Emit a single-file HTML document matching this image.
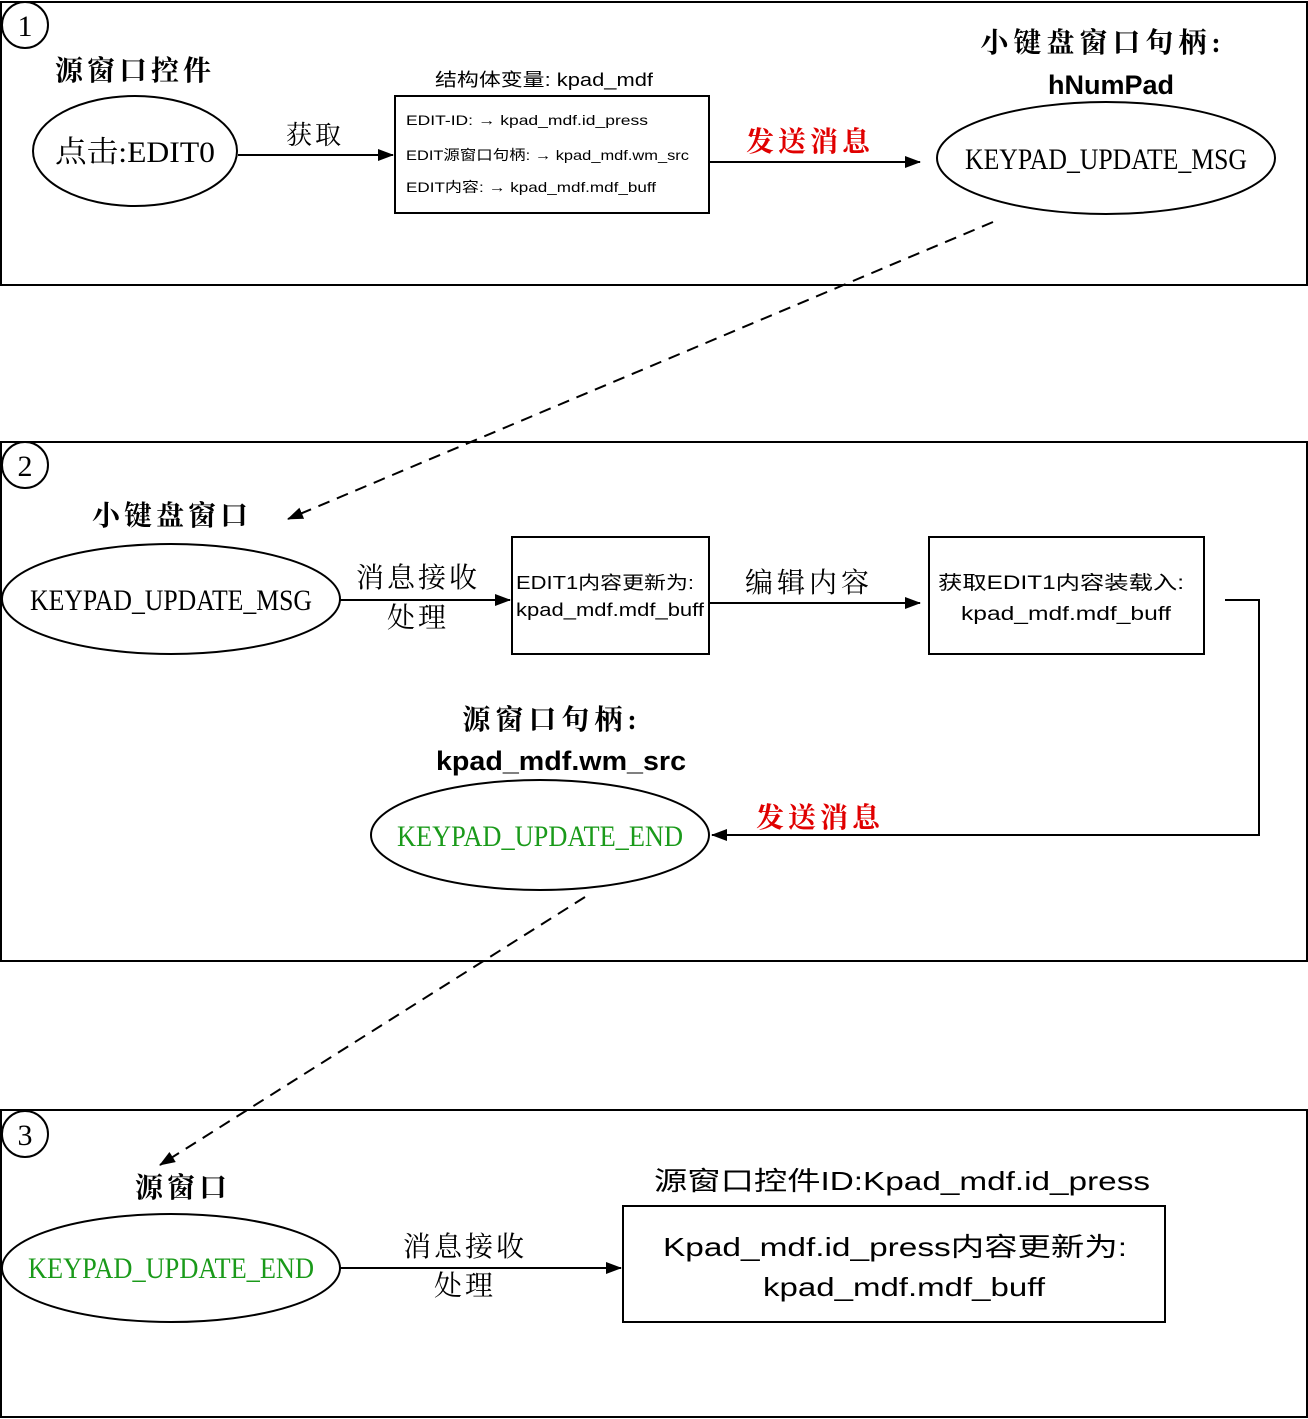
<!DOCTYPE html>
<html><head><meta charset="utf-8"><style>
html,body{margin:0;padding:0;background:#fff}
svg{display:block}
.s{font-family:"Liberation Serif","Noto Serif CJK SC",serif}
.a{font-family:"Liberation Sans","Noto Sans CJK SC",sans-serif}
</style></head><body>
<svg width="1308" height="1419" viewBox="0 0 1308 1419" xmlns="http://www.w3.org/2000/svg">
<defs>
<marker id="ar" markerWidth="16" markerHeight="12" refX="15" refY="6" orient="auto" markerUnits="userSpaceOnUse">
<path d="M0,0 L16,6 L0,12 z" fill="#000"/></marker>
</defs>
<g fill="none" stroke="#000" stroke-width="2">
<rect x="1" y="2" width="1306" height="283"/>
<rect x="1" y="442" width="1306" height="519"/>
<rect x="1" y="1110" width="1306" height="307"/>
<circle cx="25" cy="25" r="23"/>
<circle cx="25" cy="465" r="23"/>
<circle cx="25" cy="1134" r="23"/>
<ellipse cx="135" cy="151" rx="102" ry="55"/>
<ellipse cx="1106" cy="158" rx="169" ry="56"/>
<ellipse cx="171" cy="599" rx="169" ry="55"/>
<ellipse cx="540" cy="835" rx="169" ry="55"/>
<ellipse cx="171" cy="1268" rx="169" ry="54"/>
<rect x="395" y="96" width="314" height="117"/>
<rect x="512" y="537" width="197" height="117"/>
<rect x="929" y="537" width="275" height="117"/>
<rect x="623" y="1206" width="542" height="116"/>
<line x1="238" y1="155" x2="393" y2="155" marker-end="url(#ar)"/>
<line x1="709" y1="162" x2="920" y2="162" marker-end="url(#ar)"/>
<line x1="340" y1="600" x2="510" y2="600" marker-end="url(#ar)"/>
<line x1="709" y1="603" x2="920" y2="603" marker-end="url(#ar)"/>
<polyline points="1225,600 1259,600 1259,835 712,835" marker-end="url(#ar)"/>
<line x1="340" y1="1268" x2="621" y2="1268" marker-end="url(#ar)"/>
<line x1="993" y1="222" x2="288" y2="519" stroke-dasharray="12,8" marker-end="url(#ar)"/>
<line x1="585" y1="897" x2="160" y2="1165" stroke-dasharray="12,8" marker-end="url(#ar)"/>
</g>
<g class="s" font-size="30" text-anchor="middle" fill="#000">
<text x="25" y="36">1</text>
<text x="25" y="476">2</text>
<text x="25" y="1145">3</text>
</g>
<g class="s" fill="#000">
<text x="135" y="162" font-size="30" text-anchor="middle" textLength="160" lengthAdjust="spacingAndGlyphs">点击:EDIT0</text>
<text x="1106" y="169" font-size="30" text-anchor="middle" textLength="282" lengthAdjust="spacingAndGlyphs">KEYPAD_UPDATE_MSG</text>
<text x="171" y="610" font-size="30" text-anchor="middle" textLength="282" lengthAdjust="spacingAndGlyphs">KEYPAD_UPDATE_MSG</text>
<text x="540" y="846" font-size="30" text-anchor="middle" fill="#1a9a1a" textLength="286" lengthAdjust="spacingAndGlyphs">KEYPAD_UPDATE_END</text>
<text x="171" y="1278" font-size="30" text-anchor="middle" fill="#1a9a1a" textLength="286" lengthAdjust="spacingAndGlyphs">KEYPAD_UPDATE_END</text>
<text x="135" y="80" font-size="28" font-weight="bold" text-anchor="middle" letter-spacing="4">源窗口控件</text>
<text x="315" y="144" font-size="26" text-anchor="middle" letter-spacing="3">获取</text>
<text x="810" y="151" font-size="28" font-weight="bold" fill="#e00000" text-anchor="middle" letter-spacing="4">发送消息</text>
<text x="1103" y="52" font-size="28" font-weight="bold" text-anchor="middle" letter-spacing="5">小键盘窗口句柄:</text>
<text x="172" y="525" font-size="28" font-weight="bold" text-anchor="middle" letter-spacing="4">小键盘窗口</text>
<text x="418" y="587" font-size="28" text-anchor="middle" letter-spacing="3">消息接收</text>
<text x="418" y="627" font-size="28" text-anchor="middle" letter-spacing="3">处理</text>
<text x="809" y="592" font-size="28" text-anchor="middle" letter-spacing="4">编辑内容</text>
<text x="552" y="729" font-size="28" font-weight="bold" text-anchor="middle" letter-spacing="5">源窗口句柄:</text>
<text x="820" y="827" font-size="28" font-weight="bold" fill="#e00000" text-anchor="middle" letter-spacing="4">发送消息</text>
<text x="183" y="1197" font-size="28" font-weight="bold" text-anchor="middle" letter-spacing="4">源窗口</text>
<text x="465" y="1256" font-size="28" text-anchor="middle" letter-spacing="3">消息接收</text>
<text x="465" y="1295" font-size="28" text-anchor="middle" letter-spacing="3">处理</text>
</g>
<g class="a" fill="#000">
<text x="1111" y="94" font-size="27" font-weight="bold" text-anchor="middle">hNumPad</text>
<text x="561" y="770" font-size="27" font-weight="bold" text-anchor="middle" textLength="250" lengthAdjust="spacingAndGlyphs">kpad_mdf.wm_src</text>
<text x="544" y="86" font-size="18" text-anchor="middle" textLength="218" lengthAdjust="spacingAndGlyphs">结构体变量: kpad_mdf</text>
<text x="406" y="125" font-size="14" textLength="242" lengthAdjust="spacingAndGlyphs">EDIT-ID: → kpad_mdf.id_press</text>
<text x="406" y="160" font-size="14" textLength="283" lengthAdjust="spacingAndGlyphs">EDIT源窗口句柄: → kpad_mdf.wm_src</text>
<text x="406" y="192" font-size="14" textLength="250" lengthAdjust="spacingAndGlyphs">EDIT内容: → kpad_mdf.mdf_buff</text>
<text x="516" y="589" font-size="18" textLength="178" lengthAdjust="spacingAndGlyphs">EDIT1内容更新为:</text>
<text x="516" y="616" font-size="18" textLength="188" lengthAdjust="spacingAndGlyphs">kpad_mdf.mdf_buff</text>
<text x="938" y="589" font-size="19" textLength="246" lengthAdjust="spacingAndGlyphs">获取EDIT1内容装载入:</text>
<text x="1066" y="620" font-size="19" text-anchor="middle" textLength="210" lengthAdjust="spacingAndGlyphs">kpad_mdf.mdf_buff</text>
<text x="902" y="1190" font-size="26" text-anchor="middle" textLength="496" lengthAdjust="spacingAndGlyphs">源窗口控件ID:Kpad_mdf.id_press</text>
<text x="895" y="1256" font-size="26" text-anchor="middle" textLength="464" lengthAdjust="spacingAndGlyphs">Kpad_mdf.id_press内容更新为:</text>
<text x="904" y="1296" font-size="26" text-anchor="middle" textLength="282" lengthAdjust="spacingAndGlyphs">kpad_mdf.mdf_buff</text>
</g>
</svg>
</body></html>
